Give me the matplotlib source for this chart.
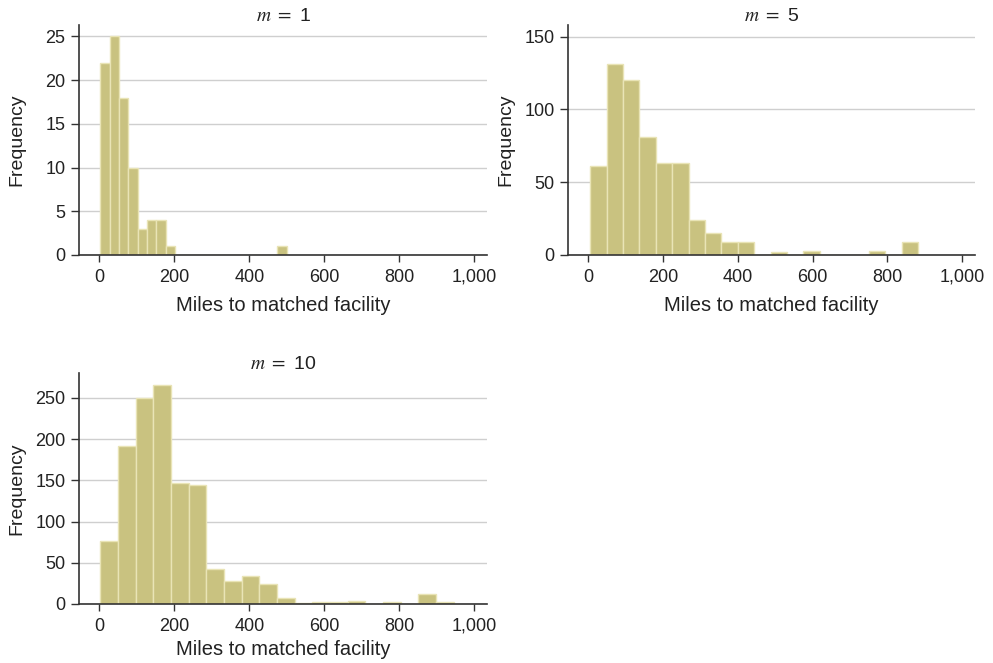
import numpy as np
import matplotlib
matplotlib.use('Agg')
import matplotlib.pyplot as plt

plt.rcParams['font.family'] = ['Liberation Sans', 'DejaVu Sans']
plt.rcParams['mathtext.fontset'] = 'stix'

# histogram counts (20 equal-width bins per panel)
m_values = [1, 5, 10]
counts_m1 = [22, 25, 18, 10, 3, 4, 4, 1, 0, 0, 0, 0, 0, 0, 0, 0, 0, 0, 0, 1]
counts_m5 = [61, 131, 120, 81, 63, 63, 24, 15, 9, 9, 0, 2, 0, 3, 0, 0, 0, 3, 0, 9]
counts_m10 = [77, 192, 250, 266, 147, 145, 43, 28, 34, 24, 7, 1, 3, 2, 4, 0, 3, 0, 12, 3]
bin_range_m1 = (2.7, 500)
bin_range_m5 = (5.3, 882)
bin_range_m10 = (2.7, 945)
yticks_m1 = [0, 5, 10, 15, 20, 25]
yticks_m5 = [0, 50, 100, 150]
yticks_m10 = [0, 50, 100, 150, 200, 250]
xticks = [0, 200, 400, 600, 800, 1000]
xticklabels = ['0', '200', '400', '600', '800', '1,000']

# counts, bin range, y ticks, y top, axes rect, x-label offset (px below axis)
panels = [
    (counts_m1, bin_range_m1, yticks_m1, 26.3, [0.0799, 0.6154, 0.4106, 0.3469], 51),
    (counts_m5, bin_range_m5, yticks_m5, 158, [0.5723, 0.6154, 0.4096, 0.3469], 51),
    (counts_m10, bin_range_m10, yticks_m10, 280, [0.0799, 0.0890, 0.4106, 0.3480], 46),
]

bar_color = '#C9C280'
edge_color = '#E9E4B6'
ink = '#222222'

fig = plt.figure(figsize=(9.93, 6.63), dpi=100)

for m, (counts, (lo, hi), yt, ytop, rect, xlab_off) in zip(m_values, panels):
    ax = fig.add_axes(rect)
    edges = np.linspace(lo, hi, len(counts) + 1)
    ax.hist(edges[:-1], bins=edges, weights=counts, color=bar_color,
            edgecolor=edge_color, linewidth=1.0, zorder=2)
    ax.set_xlim(-53, 1034)
    ax.set_ylim(0, ytop)
    ax.set_xticks(xticks)
    ax.set_xticklabels(xticklabels)
    ax.set_yticks(yt)
    ax.grid(axis='y', color='#CFCFCF', linewidth=1.0, zorder=0)
    ax.set_axisbelow(True)
    for side in ['top', 'right']:
        ax.spines[side].set_visible(False)
    for side in ['left', 'bottom']:
        ax.spines[side].set_color('#333333')
        ax.spines[side].set_linewidth(1.2)
    ax.tick_params(axis='both', direction='out', colors='#333333', labelcolor=ink,
                   labelsize=13, width=1.0)
    ax.tick_params(axis='x', length=5, pad=5)
    ax.tick_params(axis='y', length=6, pad=4)

    w_px = rect[2] * 993
    h_px = rect[3] * 663
    ax.set_xlabel('Miles to matched facility', fontsize=14.5, color=ink, va='center')
    ax.xaxis.set_label_coords(0.5, -xlab_off / h_px)
    ax.set_ylabel('Frequency', fontsize=14, color=ink, va='center')
    ax.yaxis.set_label_coords(-62 / w_px, 0.5)
    ax.set_title(r'$m\ =$ ' + str(m), fontsize=14, color=ink, pad=1.5)

fig.savefig('out.png', dpi=100, facecolor='white')
